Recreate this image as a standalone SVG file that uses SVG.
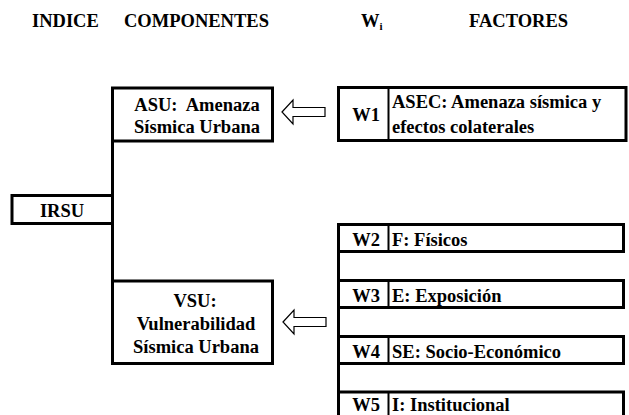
<svg xmlns="http://www.w3.org/2000/svg" width="629" height="415" viewBox="0 0 629 415" font-family="'Liberation Serif', 'Times New Roman', 'DejaVu Serif', serif">
<style>
text{font-family:"Liberation Serif","Times New Roman","DejaVu Serif",serif;font-weight:bold;font-size:18.5px;fill:#000}
.box{fill:#fff;stroke:#000;stroke-width:3}
.div{stroke:#000;stroke-width:2;fill:none}
.line{stroke:#000;stroke-width:3;fill:none}
.arrow{fill:#fff;stroke:#000;stroke-width:1.2;stroke-linejoin:miter}
.c{text-anchor:middle}
</style>
<defs>
<path id="blockArrow" class="arrow" d="M0,0 L11,-12 L11,-4.5 L43,-4.5 L43,4.5 L11,4.5 L11,12 Z"/>
</defs>
<rect width="629" height="415" fill="#fff"/>
<g id="headers">
<text x="32" y="27">INDICE</text>
<text x="124" y="27">COMPONENTES</text>
<text x="361" y="27">W<tspan font-size="11" dy="3">i</tspan></text>
<text x="469" y="27">FACTORES</text>
</g>
<g id="connectors">
<line class="line" x1="112.5" y1="141" x2="112.5" y2="281"/>
<line class="line" x1="338.5" y1="224" x2="338.5" y2="415"/>
<use href="#blockArrow" x="282" y="112"/>
<use href="#blockArrow" x="283" y="322"/>
</g>
<g id="IRSU">
<rect class="box" x="12" y="195.5" width="100.5" height="28"/>
<text class="c" x="62" y="217">IRSU</text>
</g>
<g id="ASU">
<rect class="box" x="112.5" y="88" width="160" height="53"/>
<text class="c" x="197" y="111" xml:space="preserve">ASU:  Amenaza</text>
<text class="c" x="197" y="133">Sísmica Urbana</text>
</g>
<g id="VSU">
<rect class="box" x="112.5" y="281" width="160" height="82.5"/>
<text class="c" x="195" y="307">VSU:</text>
<text class="c" x="196" y="330">Vulnerabilidad</text>
<text class="c" x="196" y="353">Sísmica Urbana</text>
</g>
<g id="W1">
<rect class="box" x="338.5" y="87.5" width="287.5" height="53"/>
<line class="div" x1="388.5" y1="87.5" x2="388.5" y2="140.5"/>
<text class="c" x="366" y="121">W1</text>
<text x="392" y="108">ASEC: Amenaza sísmica y</text>
<text x="392" y="133">efectos colaterales</text>
</g>
<g id="W2">
<rect class="box" x="338.5" y="224.5" width="285" height="27"/>
<line class="div" x1="388.5" y1="224.5" x2="388.5" y2="251.5"/>
<text class="c" x="366" y="246">W2</text>
<text x="392" y="246">F: Físicos</text>
</g>
<g id="W3">
<rect class="box" x="338.5" y="280.5" width="285" height="27"/>
<line class="div" x1="388.5" y1="280.5" x2="388.5" y2="307.5"/>
<text class="c" x="366" y="302">W3</text>
<text x="392" y="302">E: Exposición</text>
</g>
<g id="W4">
<rect class="box" x="338.5" y="336.5" width="285" height="27"/>
<line class="div" x1="388.5" y1="336.5" x2="388.5" y2="363.5"/>
<text class="c" x="366" y="358">W4</text>
<text x="392" y="358">SE: Socio-Económico</text>
</g>
<g id="W5">
<rect class="box" x="338.5" y="392" width="285" height="27"/>
<line class="div" x1="388.5" y1="392" x2="388.5" y2="419"/>
<text class="c" x="366" y="411">W5</text>
<text x="392" y="411">I: Institucional</text>
</g>
</svg>
